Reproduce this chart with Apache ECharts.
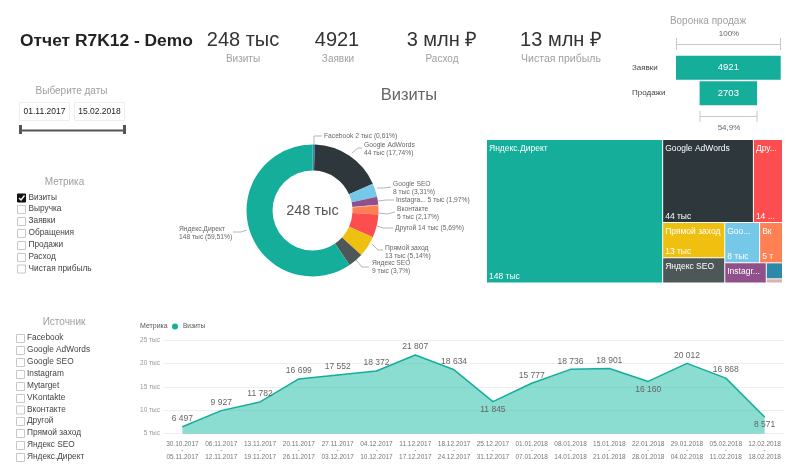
<!DOCTYPE html>
<html>
<head>
<meta charset="utf-8">
<title>Отчет R7K12 - Demo</title>
<script src="https://cdn.jsdelivr.net/npm/echarts@6/dist/echarts.min.js"></script>
<style>
    html, body { margin: 0; padding: 0; background: #fff; }
    #main { width: 800px; height: 465px; }
</style>
</head>
<body>
<div id="main"></div>
<script>
// недели
var weekStart = ['30.10.2017', '06.11.2017', '13.11.2017', '20.11.2017', '27.11.2017', '04.12.2017', '11.12.2017', '18.12.2017', '25.12.2017', '01.01.2018', '08.01.2018', '15.01.2018', '22.01.2018', '29.01.2018', '05.02.2018', '12.02.2018'];
var weekEnd = ['05.11.2017', '12.11.2017', '19.11.2017', '26.11.2017', '03.12.2017', '10.12.2017', '17.12.2017', '24.12.2017', '31.12.2017', '07.01.2018', '14.01.2018', '21.01.2018', '28.01.2018', '04.02.2018', '11.02.2018', '18.02.2018'];
var weekVisits = [6497, 9927, 11782, 16699, 17552, 18372, 21807, 18634, 11845, 15777, 18736, 18901, 16160, 20012, 16868, 8571];
var labelsBelow = [8, 12, 15];

// источники, порядок как в кольце
var sourceNames = ['Facebook', 'Google AdWords', 'Google SEO', 'Instagram', 'Mytarget', 'Вконтакте', 'Другой', 'Прямой заход', 'Яндекс SEO', 'Яндекс.Директ'];
var sourceShares = [0.61, 17.74, 3.31, 1.97, 0.16, 2.17, 5.69, 5.14, 3.7, 59.51];
var sourceTotals = ['2 тыс', '44 тыс', '8 тыс', '5 тыс', '', '5 тыс', '14 тыс', '13 тыс', '9 тыс', '148 тыс'];
var sourceColors = ['#2e88a8', '#2d373c', '#76c8e8', '#90508a', '#ddb0b0', '#ff8052', '#fd4e4f', '#f0c010', '#4e5757', '#15ae9a'];
var donutLabels = ['Facebook 2 тыс (0,61%)', 'Google AdWords\n44 тыс (17,74%)', 'Google SEO\n8 тыс (3,31%)', 'Instagra... 5 тыс (1,97%)', '', 'Вконтакте\n5 тыс (2,17%)', 'Другой 14 тыс (5,69%)', 'Прямой заход\n13 тыс (5,14%)', 'Яндекс SEO\n9 тыс (3,7%)', 'Яндекс.Директ\n148 тыс (59,51%)'];

// воронка
var funnelStages = ['Заявки', 'Продажи'];
var funnelValues = [4921, 2703];

// фильтры
var metricItems = ['Визиты', 'Выручка', 'Заявки', 'Обращения', 'Продажи', 'Расход', 'Чистая прибыль'];
var filterSources = ['Facebook', 'Google AdWords', 'Google SEO', 'Instagram', 'Mytarget', 'VKontakte', 'Вконтакте', 'Другой', 'Прямой заход', 'Яндекс SEO', 'Яндекс.Директ'];

var FONT = '"Liberation Sans", Arial, sans-serif';
var TEAL = '#15ae9a';

// подписи кольца: положение подписи и её выноска
var donutLayout = [
    { x: 324, y: 136, line: [[314, 144], [314, 136], [322, 136]] },
    { x: 364, y: 149, line: [[352, 153], [358, 148], [362, 148]] },
    { x: 393, y: 188, line: [[377, 188], [383, 188], [391, 187]] },
    { x: 396, y: 200, line: [[378, 201], [386, 200], [394, 200]] },
    null,
    { x: 397, y: 213, line: [[378, 213], [387, 214], [395, 212]] },
    { x: 395, y: 228, line: [[377, 226], [383, 228], [393, 228]] },
    { x: 385, y: 252, line: [[372, 244], [378, 250], [383, 250]] },
    { x: 372, y: 267, line: [[356, 260], [362, 267], [369, 267]] },
    { x: 179, y: 233, line: [[247, 230], [241, 232], [233, 232]] }
];

function text(str, x, y, size, fill, align, weight) {
    return {
        type: 'text',
        silent: true,
        style: {
            text: str,
            x: x,
            y: y,
            fill: fill,
            font: (weight || 'normal') + ' ' + size + 'px ' + FONT,
            textAlign: align || 'center',
            textVerticalAlign: 'middle'
        }
    };
}

function line(x1, y1, x2, y2, color, width) {
    return {
        type: 'line',
        silent: true,
        shape: { x1: x1, y1: y1, x2: x2, y2: y2 },
        style: { stroke: color, lineWidth: width }
    };
}

function box(x, y, w, h, fill, stroke) {
    return {
        type: 'rect',
        silent: true,
        shape: { x: x, y: y, width: w, height: h },
        style: { fill: fill, stroke: stroke, lineWidth: 1 }
    };
}

function checkList(items, ys, boxX, textX, checked) {
    var out = [];
    items.forEach(function (item, i) {
        if (i === checked) {
            out.push(box(boxX, ys[i] - 3.5, 8, 8, '#111', '#111'));
            out.push({
                type: 'polyline',
                silent: true,
                shape: { points: [[boxX + 1.5, ys[i] + 0.5], [boxX + 3.5, ys[i] + 2.5], [boxX + 7, ys[i] - 2]] },
                style: { stroke: '#fff', lineWidth: 1.3, fill: null }
            });
        } else {
            out.push(box(boxX, ys[i] - 3.5, 8, 8, '#fff', '#c8c8c8'));
        }
        out.push(text(item, textX, ys[i], 8.3, '#444', 'left'));
    });
    return out;
}

function buildGraphic() {
    var g = [];
    g.push(text('Отчет R7K12 - Demo', 20, 41, 17.4, '#222', 'left', 'bold'));

    // показатели
    g.push(text('248 тыс', 243, 40, 20, '#333'), text('Визиты', 243, 59.5, 10, '#a0a0a0'));
    g.push(text('4921', 337, 40, 20, '#333'), text('Заявки', 338, 59.5, 10, '#a0a0a0'));
    g.push(text('3 млн ₽', 442, 40, 20, '#333'), text('Расход', 442, 59.5, 10, '#a0a0a0'));
    g.push(text('13 млн ₽', 561, 40, 20, '#333'), text('Чистая прибыль', 561, 59.5, 10.5, '#a0a0a0'));

    // выбор дат
    g.push(text('Выберите даты', 71.5, 91, 10, '#a0a0a0'));
    g.push(box(19.5, 102.5, 50, 18, '#fff', '#eeeeee'), box(74.5, 102.5, 50, 18, '#fff', '#eeeeee'));
    g.push(text('01.11.2017', 44.5, 112, 8.5, '#222'), text('15.02.2018', 99.5, 112, 8.5, '#222'));
    g.push(line(21, 130.5, 124, 130.5, '#555', 2), line(20.5, 125, 20.5, 134, '#555', 3), line(124.5, 125, 124.5, 134, '#555', 3));

    // фильтры
    g.push(text('Метрика', 64.5, 182, 10, '#a0a0a0'));
    g = g.concat(checkList(metricItems, [197.5, 209, 221, 233, 245, 257, 268.5], 17.5, 28.5, 0));
    g.push(text('Источник', 64, 322.5, 10, '#a0a0a0'));
    g = g.concat(checkList(filterSources, [338, 350, 362, 374, 386, 398, 409.5, 421, 433, 445, 457], 16.5, 27, -1));

    // заголовки визуалов
    g.push(text('Визиты', 409, 95, 16.5, '#666'));
    g.push(text('248 тыс', 312.5, 211, 14.5, '#555'));
    g.push(text('Метрика', 140, 326, 7, '#555', 'left'));

    // воронка: скобки
    g.push(text('Воронка продаж', 708, 21, 10, '#a0a0a0'));
    g.push(text('100%', 729, 34, 8, '#666'), text('54,9%', 729, 127.5, 8, '#666'));
    g.push(line(676, 44.5, 781, 44.5, '#c8c8c8', 1), line(676.5, 38, 676.5, 50, '#c8c8c8', 1), line(780.5, 38, 780.5, 50, '#c8c8c8', 1));
    g.push(line(700, 116.5, 757, 116.5, '#c8c8c8', 1), line(700, 111, 700, 122, '#c8c8c8', 1), line(757, 111, 757, 122, '#c8c8c8', 1));
    return g;
}

// данные для дерева: значение, цвет и подпись
function treeData(showValue) {
    return sourceNames.map(function (name, i) {
        var small = i === 0 || i === 4;
        var noValue = small || name === 'Яндекс SEO' || name === 'Instagram';
        // в узких ячейках текст обрезается раньше
        var narrow = showValue ? (name === 'Другой' || name === 'Вконтакте') : (name === 'Google SEO' || name === 'Вконтакте');
        var label = { show: showValue ? !noValue : !small };
        if (narrow) {
            label.padding = showValue ? [2, 6, 0, 1] : [3, 6, 2, 1];
        }
        return {
            name: name,
            value: sourceShares[i],
            itemStyle: { color: showValue ? 'transparent' : sourceColors[i] },
            label: label
        };
    });
}

function treeSeries(showValue) {
    return {
        type: 'treemap',
        left: 487,
        top: 140,
        width: 295,
        height: 142.5,
        roam: false,
        nodeClick: false,
        silent: true,
        sort: 'desc',
        breadcrumb: { show: false },
        itemStyle: { gapWidth: 1, borderWidth: 0 },
        label: {
            show: true,
            position: showValue ? 'insideBottomLeft' : 'insideTopLeft',
            distance: 1,
            padding: showValue ? [2, 1, 0, 1] : [3, 1, 2, 1],
            color: '#fff',
            fontFamily: FONT,
            fontSize: 8.5,
            overflow: 'truncate',
            formatter: function (p) {
                return showValue ? sourceTotals[sourceNames.indexOf(p.name)] : p.name;
            }
        },
        data: treeData(showValue)
    };
}

var chart = echarts.init(document.getElementById('main'));

chart.setOption({
    animation: false,
    textStyle: { fontFamily: FONT },
    graphic: { elements: buildGraphic() },
    legend: {
        left: 172,
        top: 323,
        padding: 0,
        itemWidth: 6,
        itemHeight: 6,
        itemGap: 4,
        data: [{ name: 'Визиты', icon: 'circle' }],
        textStyle: { fontSize: 6.5, color: '#555' }
    },
    grid: [
        { left: 163, top: 340, width: 621, height: 93.7, containLabel: false },
        { left: 676, top: 55, width: 104.7, height: 51 }
    ],
    xAxis: [
        {
            type: 'category',
            gridIndex: 0,
            data: weekStart,
            axisLine: { show: false },
            axisTick: { show: false },
            axisLabel: {
                interval: 0,
                margin: 7,
                fontSize: 6.5,
                lineHeight: 6.5,
                color: '#777',
                formatter: function (value, i) {
                    return value + '\n-\n' + weekEnd[i];
                }
            }
        },
        { type: 'value', gridIndex: 1, min: 0, max: funnelValues[0], show: false }
    ],
    yAxis: [
        {
            type: 'value',
            gridIndex: 0,
            min: 5000,
            max: 25000,
            interval: 5000,
            axisLine: { show: false },
            axisTick: { show: false },
            splitLine: { lineStyle: { color: '#eeeeee' } },
            axisLabel: {
                margin: 3,
                fontSize: 6.5,
                color: '#999',
                formatter: function (v) { return (v / 1000) + ' тыс'; }
            }
        },
        {
            type: 'category',
            gridIndex: 1,
            inverse: true,
            data: funnelStages,
            axisLine: { show: false },
            axisTick: { show: false },
            axisLabel: { margin: 44, align: 'left', fontSize: 8, color: '#444' }
        }
    ],
    series: [
        {
            name: 'Визиты',
            type: 'line',
            xAxisIndex: 0,
            yAxisIndex: 0,
            showSymbol: true,
            symbol: 'circle',
            symbolSize: 1,
            color: TEAL,
            lineStyle: { color: TEAL, width: 1.5 },
            areaStyle: { color: '#18b9a4', opacity: 0.5 },
            label: { show: true },
            data: weekVisits.map(function (v, i) {
                return {
                    value: v,
                    label: {
                        show: true,
                        position: labelsBelow.indexOf(i) >= 0 ? 'bottom' : 'top',
                        distance: 3,
                        fontSize: 8.5,
                        color: '#666',
                        formatter: String(v).replace(/(\d)(?=\d{3}$)/, '$1 ')
                    }
                };
            })
        },
        {
            type: 'pie',
            center: [312.5, 210.5],
            radius: [40, 66],
            startAngle: 90,
            silent: true,
            label: {
                show: true,
                fontSize: 6.7,
                lineHeight: 7.5,
                color: '#666',
                align: 'left',
                formatter: function (p) { return donutLabels[p.dataIndex]; }
            },
            labelLine: { show: true, lineStyle: { color: '#b5b5b5', width: 1 } },
            labelLayout: function (p) {
                var l = donutLayout[p.dataIndex];
                if (!l) {
                    return {};
                }
                return { x: l.x, y: l.y, align: 'left', verticalAlign: 'middle', labelLinePoints: l.line };
            },
            data: sourceNames.map(function (name, i) {
                var item = { name: name, value: sourceShares[i], itemStyle: { color: sourceColors[i] } };
                // у Mytarget в кольце подписи нет
                if (!donutLabels[i]) {
                    item.label = { show: false };
                    item.labelLine = { show: false };
                }
                return item;
            })
        },
        // невидимая часть, чтобы столбцы воронки стояли по центру
        {
            type: 'bar',
            xAxisIndex: 1,
            yAxisIndex: 1,
            stack: 'funnel',
            silent: true,
            barCategoryGap: '5%',
            itemStyle: { color: 'transparent' },
            data: funnelValues.map(function (v) { return (funnelValues[0] - v) / 2; })
        },
        {
            type: 'bar',
            xAxisIndex: 1,
            yAxisIndex: 1,
            stack: 'funnel',
            silent: true,
            itemStyle: { color: TEAL },
            label: { show: true, position: 'inside', color: '#fff', fontSize: 9.5 },
            data: funnelValues
        },
        treeSeries(false),
        treeSeries(true)
    ]
});
</script>
</body>
</html>
